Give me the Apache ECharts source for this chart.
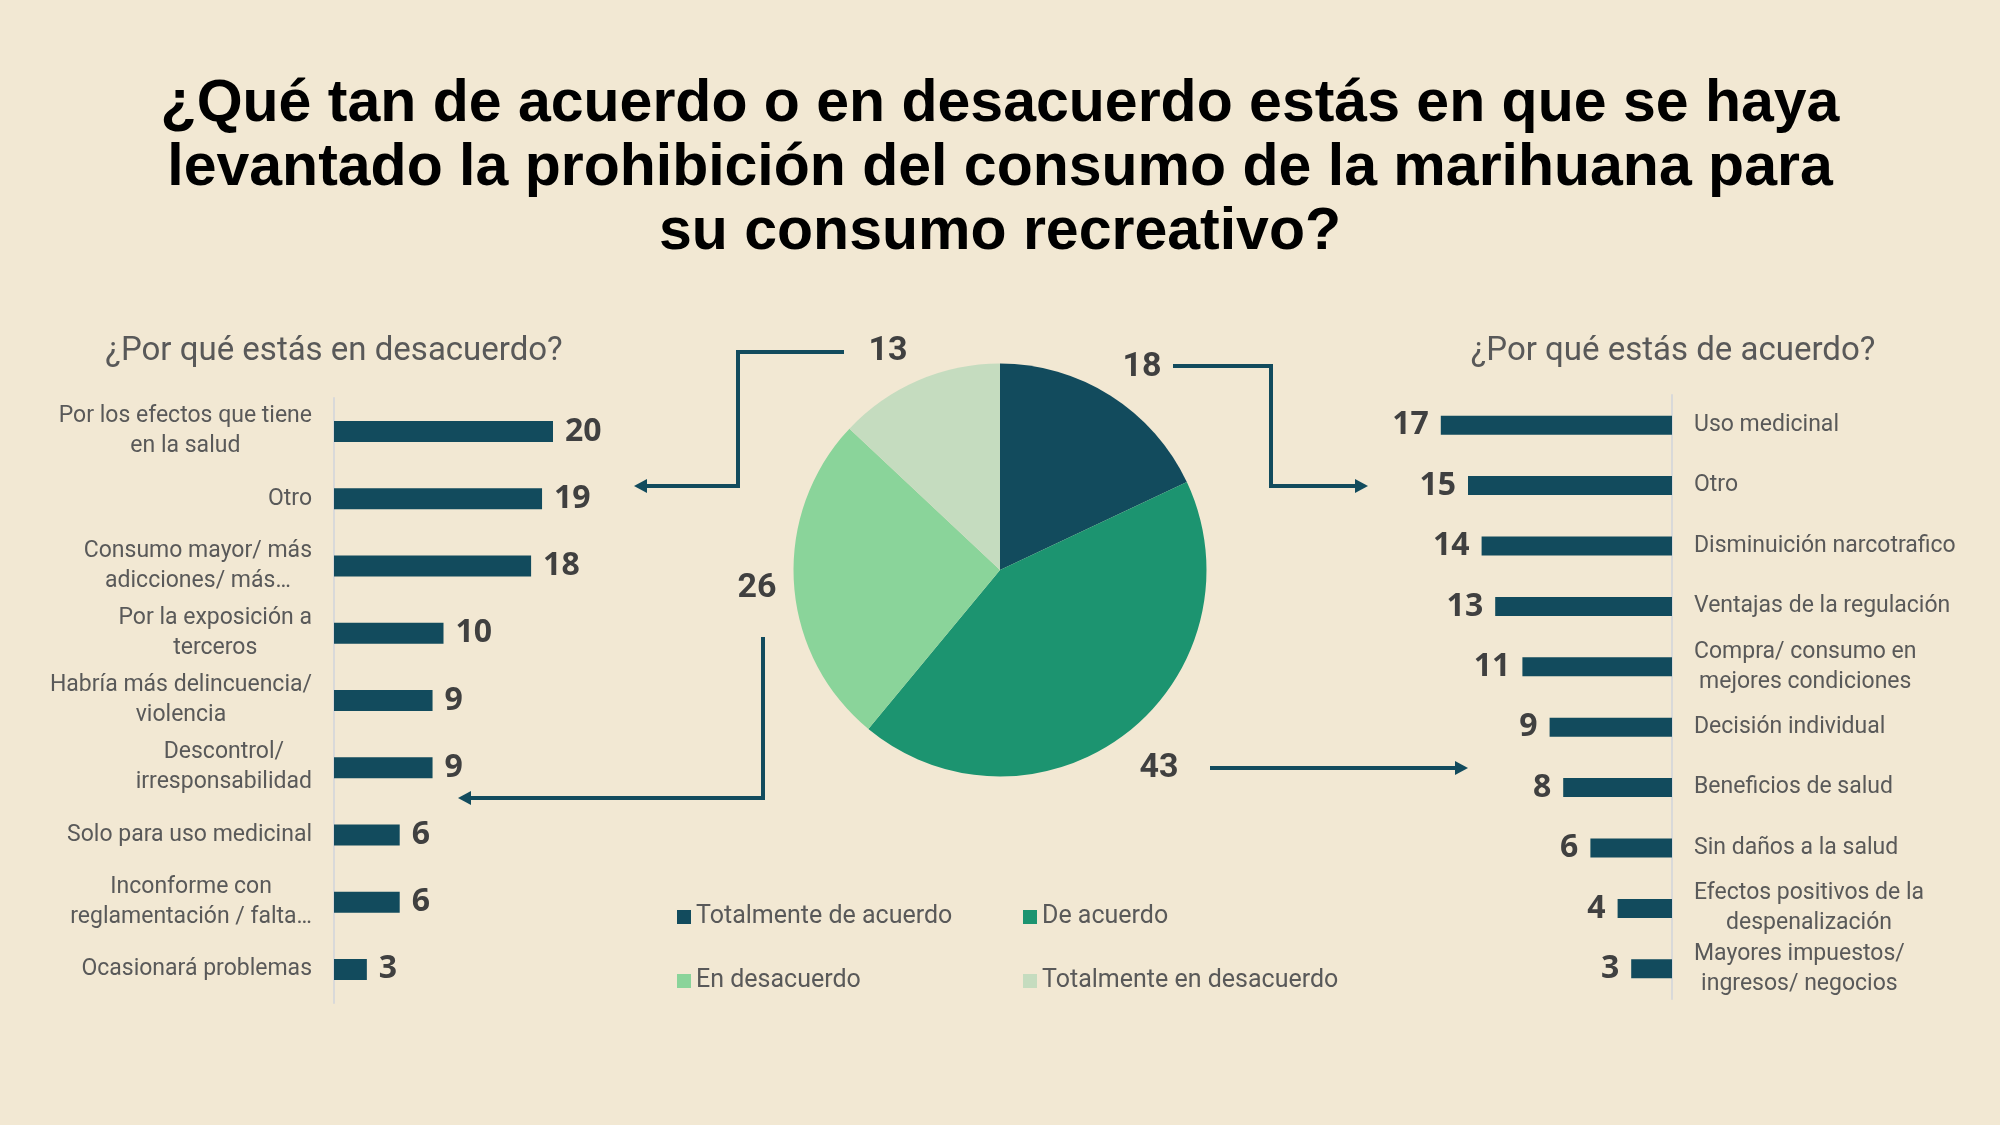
<!DOCTYPE html>
<html>
<head>
<meta charset="utf-8">
<script src="https://cdn.jsdelivr.net/npm/echarts@6/dist/echarts.min.js"></script>
<style>
  html, body { margin: 0; padding: 0; background: #f2e8d3; }
  #chart { width: 2000px; height: 1125px; }
</style>
</head>
<body>
<div id="chart"></div>
<script>
const mainTitle = '¿Qué tan de acuerdo o en desacuerdo estás en que se haya\nlevantado la prohibición del consumo de la marihuana para\nsu consumo recreativo?';
const leftSubtitle = '¿Por qué estás en desacuerdo?';
const rightSubtitle = '¿Por qué estás de acuerdo?';

const pieCategories = ['Totalmente de acuerdo', 'De acuerdo', 'En desacuerdo', 'Totalmente en desacuerdo'];
const pieValues = [18, 43, 26, 13];

const disagreeReasons = [
  'Por los efectos que tiene\nen la salud',
  'Otro',
  'Consumo mayor/ más\nadicciones/ más…',
  'Por la exposición a\nterceros',
  'Habría más delincuencia/\nviolencia',
  'Descontrol/\nirresponsabilidad',
  'Solo para uso medicinal',
  'Inconforme con\nreglamentación / falta…',
  'Ocasionará problemas'
];
const disagreeValues = [20, 19, 18, 10, 9, 9, 6, 6, 3];

const agreeReasons = [
  'Uso medicinal',
  'Otro',
  'Disminuición narcotrafico',
  'Ventajas de la regulación',
  'Compra/ consumo en\nmejores condiciones',
  'Decisión individual',
  'Beneficios de salud',
  'Sin daños a la salud',
  'Efectos positivos de la\ndespenalización',
  'Mayores impuestos/\ningresos/ negocios'
];
const agreeValues = [17, 15, 14, 13, 11, 9, 8, 6, 4, 3];

const DARK = '#124b5d';
const pieColors = ['#124b5d', '#1c9470', '#8ad49a', '#c5dcbf'];
const labelGray = '#595959';
const valueGray = '#404040';

const catFormatter = v => v.split('\n').map(s => '{c|' + s + '}').join('\n');
const catRich = { c: { align: 'center', fontSize: 23, fontFamily: 'Roboto', color: labelGray, lineHeight: 30 } };

// pie label anchor positions (layout only)
const pieLabelPos = [[1142, 367], [1159, 768], [757, 588], [888, 351]];

function arrow(points, tip, dir) {
  const s = 13, h = 7;
  let poly;
  if (dir === 'left') poly = [[tip[0], tip[1]], [tip[0] + s, tip[1] - h], [tip[0] + s, tip[1] + h]];
  else poly = [[tip[0], tip[1]], [tip[0] - s, tip[1] - h], [tip[0] - s, tip[1] + h]];
  return [
    { type: 'polyline', shape: { points: points }, style: { stroke: DARK, lineWidth: 4, fill: null }, silent: true },
    { type: 'polygon', shape: { points: poly }, style: { fill: DARK }, silent: true }
  ];
}

const chart = echarts.init(document.getElementById('chart'));
const option = {
  backgroundColor: '#f2e8d3',
  animation: false,
  title: {
    text: mainTitle,
    left: 'center',
    top: 73,
    padding: 0,
    textStyle: { fontFamily: 'Liberation Sans', fontWeight: 'bold', fontSize: 59, lineHeight: 64, color: '#000000' }
  },
  graphic: [
    { type: 'text', x: 334, y: 352, style: { text: leftSubtitle, fontFamily: 'Roboto', fontSize: 33, fill: labelGray, align: 'center', verticalAlign: 'middle' } },
    { type: 'text', x: 1673, y: 352, style: { text: rightSubtitle, fontFamily: 'Roboto', fontSize: 33, fill: labelGray, align: 'center', verticalAlign: 'middle' } },
    ...arrow([[844, 352], [738, 352], [738, 486], [646, 486]], [634, 486], 'left'),
    ...arrow([[1173, 366], [1271, 366], [1271, 486], [1356, 486]], [1368, 486], 'right'),
    ...arrow([[763, 637], [763, 798], [470, 798]], [458, 798], 'left'),
    ...arrow([[1210, 768], [1456, 768]], [1468, 768], 'right')
  ],
  legend: [
    {
      data: [pieCategories[0], pieCategories[2]],
      orient: 'vertical', left: 672, top: 899,
      itemWidth: 14, itemHeight: 14, itemGap: 38, icon: 'rect',
      textStyle: { fontFamily: 'Roboto', fontSize: 25, color: labelGray, lineHeight: 26 }
    },
    {
      data: [pieCategories[1], pieCategories[3]],
      orient: 'vertical', left: 1018, top: 899,
      itemWidth: 14, itemHeight: 14, itemGap: 38, icon: 'rect',
      textStyle: { fontFamily: 'Roboto', fontSize: 25, color: labelGray, lineHeight: 26 }
    }
  ],
  grid: [
    { left: 334, top: 398, width: 219, height: 605 },
    { left: 1400, top: 395, width: 272, height: 604 }
  ],
  xAxis: [
    { gridIndex: 0, type: 'value', min: 0, max: 20, show: false },
    { gridIndex: 1, type: 'value', min: 0, max: 20, inverse: true, show: false }
  ],
  yAxis: [
    {
      gridIndex: 0, type: 'category', data: disagreeReasons, inverse: true, position: 'left',
      axisLine: { show: true, onZero: false, lineStyle: { color: '#d9d9d9', width: 2 } },
      axisTick: { show: false },
      axisLabel: { margin: 22, formatter: catFormatter, rich: catRich }
    },
    {
      gridIndex: 1, type: 'category', data: agreeReasons, inverse: true, position: 'right',
      axisLine: { show: true, onZero: false, lineStyle: { color: '#d9d9d9', width: 2 } },
      axisTick: { show: false },
      axisLabel: { margin: 22, formatter: catFormatter, rich: catRich }
    }
  ],
  series: [
    {
      type: 'bar', xAxisIndex: 0, yAxisIndex: 0, data: disagreeValues, barWidth: 21,
      itemStyle: { color: DARK },
      label: { show: true, position: 'right', distance: 12, fontFamily: 'Open Sans', fontWeight: 'bold', fontSize: 32, color: valueGray }
    },
    {
      type: 'bar', xAxisIndex: 1, yAxisIndex: 1, data: agreeValues, barWidth: 19,
      itemStyle: { color: DARK },
      label: { show: true, position: 'left', distance: 12, fontFamily: 'Open Sans', fontWeight: 'bold', fontSize: 32, color: valueGray }
    },
    {
      type: 'pie',
      center: [1000, 570],
      radius: 206.5,
      startAngle: 90,
      clockwise: true,
      data: pieCategories.map((n, i) => ({ name: n, value: pieValues[i], itemStyle: { color: pieColors[i] } })),
      label: { show: true, formatter: '{c}', fontFamily: 'Roboto', fontWeight: 'bold', fontSize: 34, color: valueGray },
      labelLine: { show: false },
      labelLayout: function (params) {
        const p = pieLabelPos[params.dataIndex];
        return { x: p[0], y: p[1], align: 'center', verticalAlign: 'middle' };
      },
      emphasis: { disabled: true }
    }
  ]
};
chart.setOption(option);
</script>
</body>
</html>
